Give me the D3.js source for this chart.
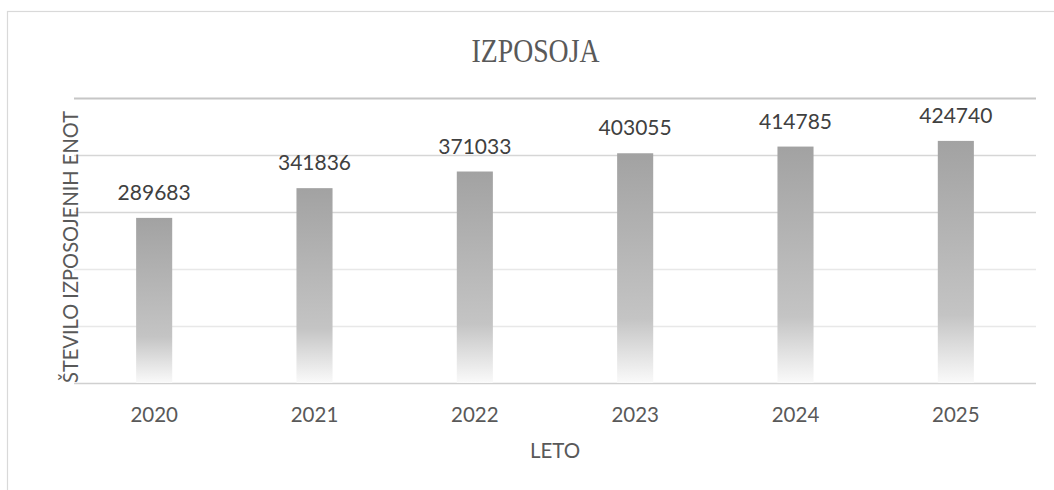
<!DOCTYPE html>
<html>
<head>
<meta charset="utf-8">
<script src="https://cdn.jsdelivr.net/npm/d3@7"></script>
<style>
  html, body { margin: 0; padding: 0; background: #ffffff; }
  svg { display: block; }
</style>
</head>
<body>
<script>
// ---- data ----
const categories = ["2020", "2021", "2022", "2023", "2024", "2025"];
const values = [289683, 341836, 371033, 403055, 414785, 424740];
const yTicks = [0, 100000, 200000, 300000, 400000, 500000];
const titleText = "IZPOSOJA";
const xTitle = "LETO";
const yTitle = "ŠTEVILO IZPOSOJENIH ENOT";

const W = 1054, H = 490;
const svg = d3.select("body").append("svg").attr("width", W).attr("height", H);

// gradient for bars
const defs = svg.append("defs");
const grad = defs.append("linearGradient").attr("id", "barGrad")
  .attr("x1", 0).attr("y1", 0).attr("x2", 0).attr("y2", 1);
grad.append("stop").attr("offset", "0%").attr("stop-color", "#a2a2a2");
grad.append("stop").attr("offset", "72%").attr("stop-color", "#c4c4c4");
grad.append("stop").attr("offset", "100%").attr("stop-color", "#fafafa");

// outer chart border
svg.append("rect").attr("x", 7.5).attr("y", 11.5).attr("width", W).attr("height", H)
  .attr("fill", "none").attr("stroke", "#d9d9d9").attr("stroke-width", 1.2);

const x = d3.scaleBand().domain(categories).range([74, 1036]).paddingInner(0.775).paddingOuter(0.3875);
const y = d3.scaleLinear().domain([0, 500000]).range([383, 98]);

// gridlines
const gridColor = v => v === 500000 ? "#c6c6c6" : (v >= 300000 ? "#d6d6d6" : (v === 0 ? "#d0d0d0" : "#e8e8e8"));
svg.append("g").selectAll("line").data(yTicks).join("line")
  .attr("x1", 74).attr("x2", 1036)
  .attr("y1", d => Math.round(y(d)) + 0.5).attr("y2", d => Math.round(y(d)) + 0.5)
  .attr("stroke", d => gridColor(d))
  .attr("stroke-width", d => d === 500000 ? 2 : 1.3);

// bars
svg.append("g").selectAll("rect").data(values).join("rect")
  .attr("x", (d, i) => x(categories[i]))
  .attr("width", x.bandwidth())
  .attr("y", d => y(d))
  .attr("height", d => y(0) - y(d))
  .attr("fill", "url(#barGrad)");

// value labels
svg.append("g").selectAll("text").data(values).join("text")
  .attr("x", (d, i) => x(categories[i]) + x.bandwidth() / 2)
  .attr("y", d => y(d) - 18)
  .attr("text-anchor", "middle")
  .attr("font-family", "Lato, 'Open Sans', sans-serif")
  .attr("font-size", 21)
  .attr("fill", "#404040")
  .text(d => d);

// x axis tick labels
const xAxis = d3.axisBottom(x).tickSize(0).tickPadding(0);
const gx = svg.append("g").attr("transform", "translate(0,383)").call(xAxis);
gx.select(".domain").remove();
gx.selectAll("text")
  .attr("y", 39).attr("dy", 0)
  .attr("font-family", "Lato, 'Open Sans', sans-serif")
  .attr("font-size", 20.5)
  .attr("fill", "#595959");

// title
svg.append("text")
  .attr("x", 535.5).attr("y", 62)
  .attr("text-anchor", "middle")
  .attr("font-family", "'Liberation Serif', serif")
  .attr("font-size", 33)
  .attr("fill", "#595959")
  .attr("textLength", 128).attr("lengthAdjust", "spacingAndGlyphs")
  .text(titleText);

// x title
svg.append("text")
  .attr("x", 555).attr("y", 458)
  .attr("text-anchor", "middle")
  .attr("font-family", "Lato, 'Open Sans', sans-serif")
  .attr("font-size", 20.5)
  .attr("fill", "#595959")
  .text(xTitle);

// y title
svg.append("text")
  .attr("transform", "translate(78,247) rotate(-90)")
  .attr("text-anchor", "middle")
  .attr("font-family", "Lato, 'Open Sans', sans-serif")
  .attr("font-size", 20.5)
  .attr("fill", "#595959")
  .attr("textLength", 272).attr("lengthAdjust", "spacingAndGlyphs")
  .text(yTitle);
</script>
</body>
</html>
